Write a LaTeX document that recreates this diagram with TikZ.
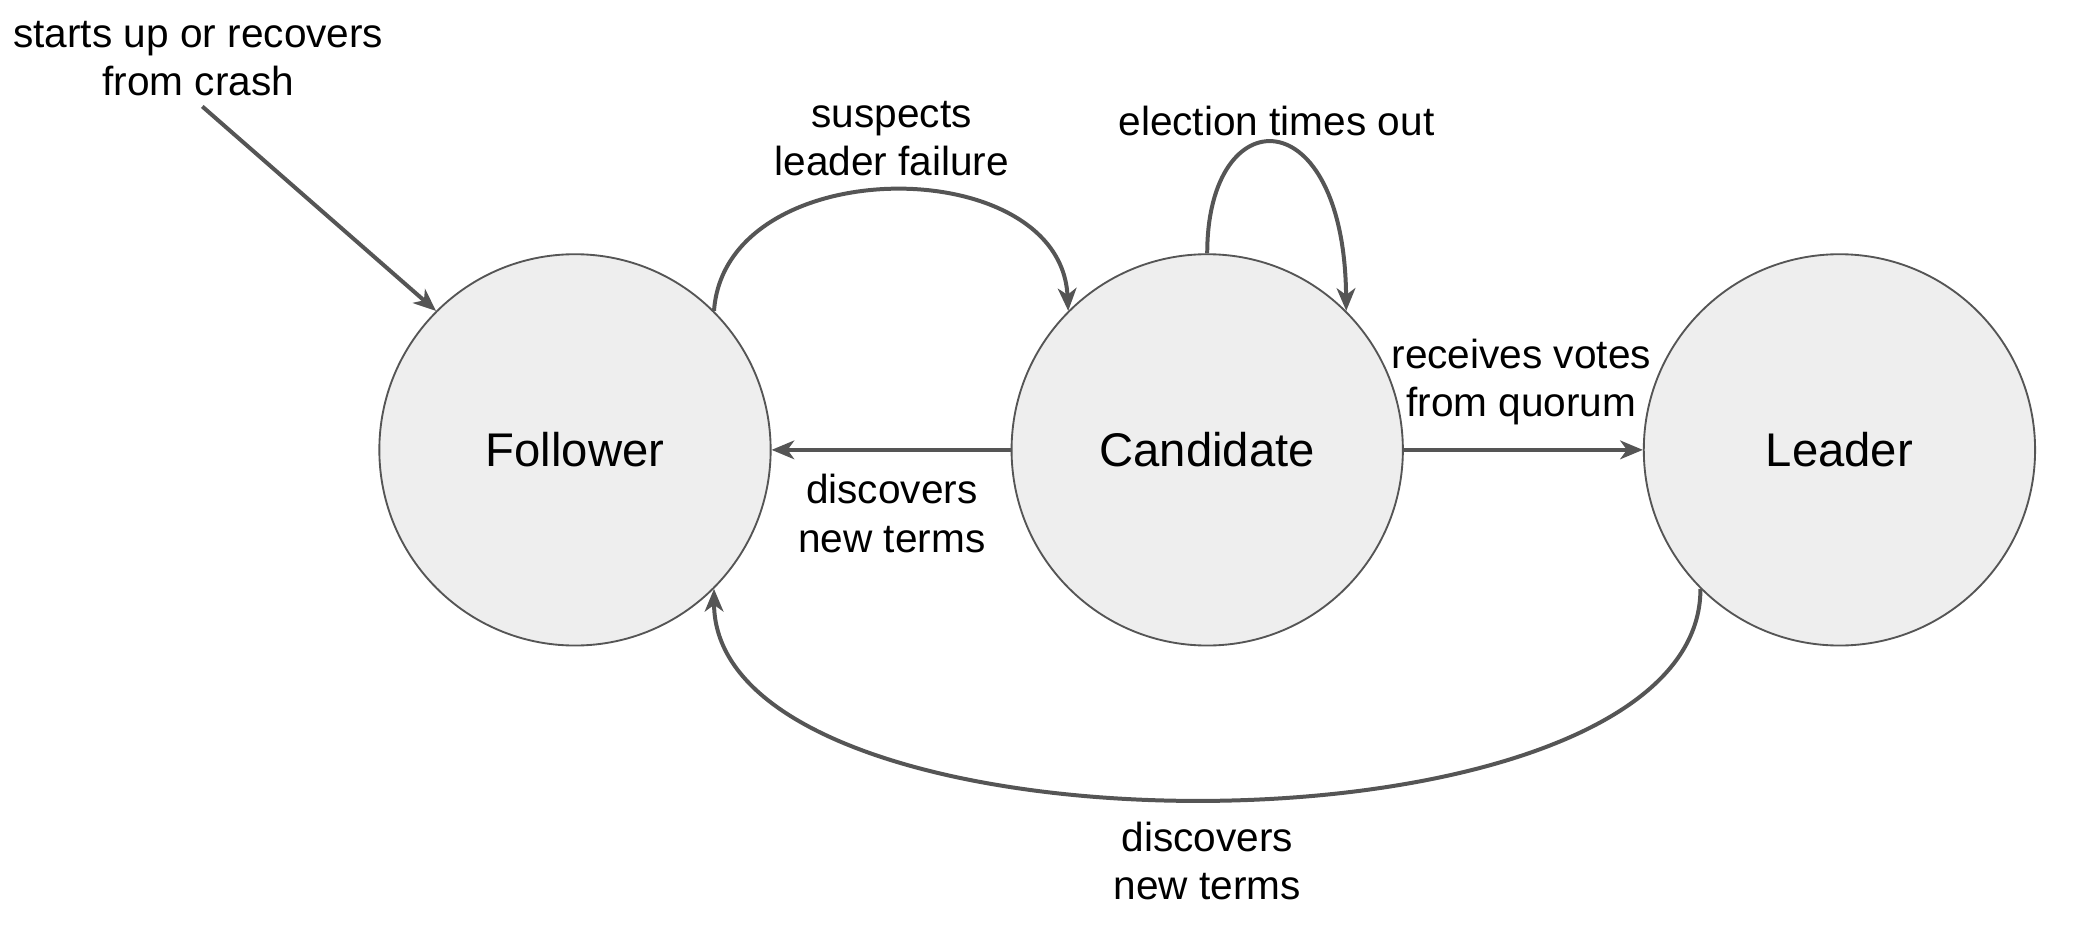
\documentclass[tikz,border=0pt]{standalone}
\usepackage{fontspec}
\setmainfont{Liberation Sans}
\usetikzlibrary{arrows.meta}
\definecolor{edgec}{HTML}{555555}
\definecolor{fillc}{HTML}{EEEEEE}
\begin{document}
\begin{tikzpicture}[x=1pt,y=-1pt,
 state/.style={circle,draw=edgec,fill=fillc,line width=1.4pt,minimum size=294pt,inner sep=0pt,font=\fontsize{35.5}{40}\selectfont},
 lbl/.style={align=center,font=\fontsize{30.5}{36.5}\selectfont,inner sep=0pt},
 conn/.style={draw=edgec,line width=3pt,-{Stealth[length=17pt,width=14pt,inset=5pt]}}]
\useasboundingbox (0,0) rectangle (1568,711);
\node[state] (F) at (432,338) {Follower};
\node[state] (C) at (907,338) {Candidate};
\node[state] (L) at (1382,338) {Leader};
\node[lbl] (t1) at (149,44) {starts up or recovers\\from crash};
\node[lbl] (t2) at (670,104) {suspects\\leader failure};
\node[lbl] (t3) at (959,91) {election times out};
\node[lbl] (t4) at (670,386) {discovers\\new terms};
\node[lbl] (t5) at (1143,287) {receives votes\\from quorum};
\node[lbl] (t6) at (907,647) {discovers\\new terms};
\coordinate (s) at (152,80);
\draw[conn] (s) -- (F.135);
\draw[conn] (F.45) .. controls (545,113) and (797,113) .. (C.135);
\draw[conn] (C.90) .. controls (907,73) and (1010,73) .. (C.45);
\draw[conn] (C.180) -- (F.0);
\draw[conn] (C.0) -- (L.180);
\draw[conn] (L.225) .. controls (1278,653) and (537,653) .. (F.-45);
\end{tikzpicture}
\end{document}
